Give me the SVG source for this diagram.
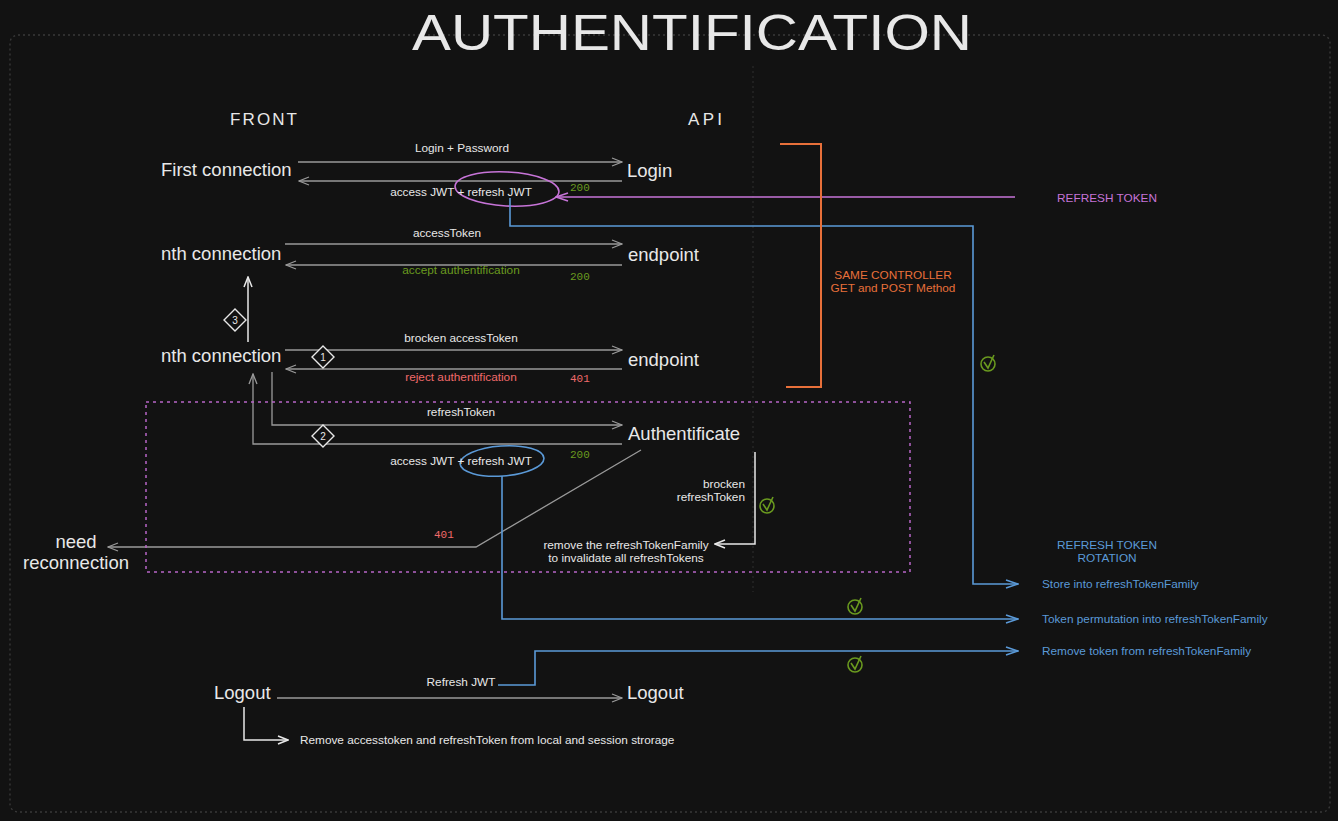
<svg xmlns="http://www.w3.org/2000/svg" width="1338" height="821" viewBox="0 0 1338 821">
<defs>
<style>
.t{font-family:"Liberation Sans",Arial,sans-serif;fill:#e8e8e8}
.big{font-size:18.5px}
.sm{font-size:11.8px}
.mono{font-family:"Liberation Mono","DejaVu Sans Mono",monospace;font-size:11px}
.g{fill:#6a9a1f}
.r{fill:#f06a6a}
.b{fill:#5b9ad8}
.p{fill:#c774d8}
.o{fill:#e8703a}
.ln{fill:none;stroke:#9a9a9a;stroke-width:1.3}
.wl{fill:none;stroke:#e8e8e8;stroke-width:1.5}
.bl{fill:none;stroke:#5b9ad8;stroke-width:1.6}
.pl{fill:none;stroke:#c774d8;stroke-width:1.6}
.ol{fill:none;stroke:#e8703a;stroke-width:2}
.chk{fill:none;stroke:#6a9a1f;stroke-width:1.6}
.dia{fill:#121212;stroke:#e8e8e8;stroke-width:1.4}
</style>
<marker id="ag" viewBox="0 0 12 10" refX="11" refY="5" markerWidth="12" markerHeight="10" markerUnits="userSpaceOnUse" orient="auto"><path d="M1,1 L11,5 L1,9" fill="none" stroke="#9a9a9a" stroke-width="1.3"/></marker>
<marker id="aw" viewBox="0 0 12 10" refX="11" refY="5" markerWidth="12" markerHeight="10" markerUnits="userSpaceOnUse" orient="auto"><path d="M1,1 L11,5 L1,9" fill="none" stroke="#e8e8e8" stroke-width="1.5"/></marker>
<marker id="ab" viewBox="0 0 14 10" refX="13" refY="5" markerWidth="14" markerHeight="10" markerUnits="userSpaceOnUse" orient="auto"><path d="M1,1 L13,5 L1,9" fill="none" stroke="#5b9ad8" stroke-width="1.6"/></marker>
<marker id="ap" viewBox="0 0 14 10" refX="13" refY="5" markerWidth="14" markerHeight="10" markerUnits="userSpaceOnUse" orient="auto"><path d="M1,1 L13,5 L1,9" fill="none" stroke="#c774d8" stroke-width="1.6"/></marker>
<g id="check"><circle cx="0" cy="0" r="7" class="chk"/><path d="M-4,-2 L0,4 L6,-9" class="chk"/></g>
</defs>
<rect width="1338" height="821" fill="#121212"/>
<rect x="10" y="35" width="1320" height="777" rx="8" fill="none" stroke="#3a3a3a" stroke-width="1.3" stroke-dasharray="2 3"/>
<line x1="753" y1="66" x2="753" y2="592" stroke="#2e2e2e" stroke-width="1" stroke-dasharray="2 3"/>

<g id="title"><text x="412" y="50" class="t" font-size="50" textLength="560" lengthAdjust="spacingAndGlyphs">AUTHENTIFICATION</text></g>
<g id="front"><text x="230" y="125" class="t" font-size="17" textLength="67">FRONT</text></g>
<g id="api"><text x="688" y="125" class="t" font-size="17" textLength="34">API</text></g>

<g id="connectors">
<line x1="298" y1="162" x2="622" y2="162" class="ln" marker-end="url(#ag)"/>
<line x1="622" y1="181" x2="299" y2="181" class="ln" marker-end="url(#ag)"/>
<line x1="285" y1="244" x2="622" y2="244" class="ln" marker-end="url(#ag)"/>
<line x1="622" y1="265" x2="286" y2="265" class="ln" marker-end="url(#ag)"/>
<line x1="285" y1="350" x2="622" y2="350" class="ln" marker-end="url(#ag)"/>
<line x1="622" y1="369" x2="286" y2="369" class="ln" marker-end="url(#ag)"/>
<line x1="248" y1="342" x2="248" y2="277" class="wl" marker-end="url(#aw)"/>
<path d="M272,372 L272,425 L622,425" class="ln" marker-end="url(#ag)"/>
<path d="M622,444 L253,444 L253,374" class="ln" marker-end="url(#ag)"/>
<path d="M641,450 L476,547 L108,547" class="ln" marker-end="url(#ag)"/>
<path d="M755,452 L755,544 L715,544" class="wl" marker-end="url(#aw)"/>
<line x1="277" y1="698" x2="622" y2="698" class="ln" marker-end="url(#ag)"/>
<path d="M244,707 L244,740 L288,740" class="wl" marker-end="url(#aw)"/>
<line x1="1015" y1="197" x2="556" y2="197" class="pl" marker-end="url(#ap)"/>
<ellipse cx="507" cy="189" rx="52" ry="17" class="pl" transform="rotate(3 507 189)"/>
<path d="M510,198 L510,226 L973,226 L973,584 L1018,584" class="bl" marker-end="url(#ab)"/>
<ellipse cx="502" cy="461" rx="42" ry="15" class="bl" transform="rotate(-4 502 461)"/>
<path d="M502,476 L502,619 L1018,619" class="bl" marker-end="url(#ab)"/>
<path d="M498,685 L535,685 L535,651 L1018,651" class="bl" marker-end="url(#ab)"/>
<path d="M780,144 L821,144 L821,387 L786,387" class="ol"/>
<rect x="146" y="402" width="764" height="170" fill="none" stroke="#b866c8" stroke-width="1.5" stroke-dasharray="3 4"/>
</g>

<g id="labels">
<text x="462" y="152" class="t sm" text-anchor="middle">Login + Password</text>
<text x="461" y="196" class="t sm" text-anchor="middle">access JWT + refresh JWT</text>
<text x="570" y="191" class="mono g">200</text>
<text x="447" y="237" class="t sm" text-anchor="middle">accessToken</text>
<text x="461" y="274" class="t sm g" text-anchor="middle">accept authentification</text>
<text x="570" y="280" class="mono g">200</text>
<text x="461" y="342" class="t sm" text-anchor="middle">brocken accessToken</text>
<text x="461" y="381" class="t sm r" text-anchor="middle">reject authentification</text>
<text x="570" y="382" class="mono r">401</text>
<text x="461" y="416" class="t sm" text-anchor="middle">refreshToken</text>
<text x="461" y="465" class="t sm" text-anchor="middle">access JWT + refresh JWT</text>
<text x="570" y="458" class="mono g">200</text>
<text x="434" y="538" class="mono r">401</text>
<text x="745" y="488" class="t sm" text-anchor="end">brocken</text>
<text x="745" y="501" class="t sm" text-anchor="end">refreshToken</text>
<text x="626" y="549" class="t sm" text-anchor="middle">remove the refreshTokenFamily</text>
<text x="626" y="562" class="t sm" text-anchor="middle">to invalidate all refreshTokens</text>
<text x="461" y="686" class="t sm" text-anchor="middle">Refresh JWT</text>
<text x="300" y="744" class="t sm">Remove accesstoken and refreshToken from local and session strorage</text>
<text x="1107" y="202" class="t sm p" text-anchor="middle">REFRESH TOKEN</text>
<text x="893" y="279" class="t sm o" text-anchor="middle">SAME CONTROLLER</text>
<text x="893" y="292" class="t sm o" text-anchor="middle">GET and POST Method</text>
<text x="1107" y="549" class="t sm b" text-anchor="middle">REFRESH TOKEN</text>
<text x="1107" y="562" class="t sm b" text-anchor="middle">ROTATION</text>
<text x="1042" y="588" class="t sm b">Store into refreshTokenFamily</text>
<text x="1042" y="623" class="t sm b">Token permutation into refreshTokenFamily</text>
<text x="1042" y="655" class="t sm b">Remove token from refreshTokenFamily</text>
</g>

<g id="checks">
<use href="#check" x="988" y="364"/>
<use href="#check" x="767" y="506"/>
<use href="#check" x="855" y="607"/>
<use href="#check" x="855" y="665"/>
</g>

<g id="diamonds">
<g id="d3"><path d="M235,309 L246,320 L235,331 L224,320 Z" class="dia"/><text x="235" y="324" class="t" font-size="10" text-anchor="middle">3</text></g>
<g id="d1"><path d="M323,346 L334,357 L323,368 L312,357 Z" class="dia"/><text x="323" y="361" class="t" font-size="10" text-anchor="middle">1</text></g>
<g id="d2"><path d="M323,425 L334,436 L323,447 L312,436 Z" class="dia"/><text x="323" y="440" class="t" font-size="10" text-anchor="middle">2</text></g>
</g>

<g id="node-first-connection"><text x="161" y="176" class="t big">First connection</text></g>
<g id="node-login"><text x="627" y="177" class="t big">Login</text></g>
<g id="node-nth1"><text x="161" y="260" class="t big">nth connection</text></g>
<g id="node-endpoint1"><text x="628" y="261" class="t big">endpoint</text></g>
<g id="node-nth2"><text x="161" y="362" class="t big">nth connection</text></g>
<g id="node-endpoint2"><text x="628" y="366" class="t big">endpoint</text></g>
<g id="node-authentificate"><text x="628" y="440" class="t big">Authentificate</text></g>
<g id="node-need-reconnection"><text x="76" y="548" class="t big" text-anchor="middle">need</text><text x="76" y="569" class="t big" text-anchor="middle">reconnection</text></g>
<g id="node-logout-front"><text x="214" y="699" class="t big">Logout</text></g>
<g id="node-logout-api"><text x="627" y="699" class="t big">Logout</text></g>
</svg>
